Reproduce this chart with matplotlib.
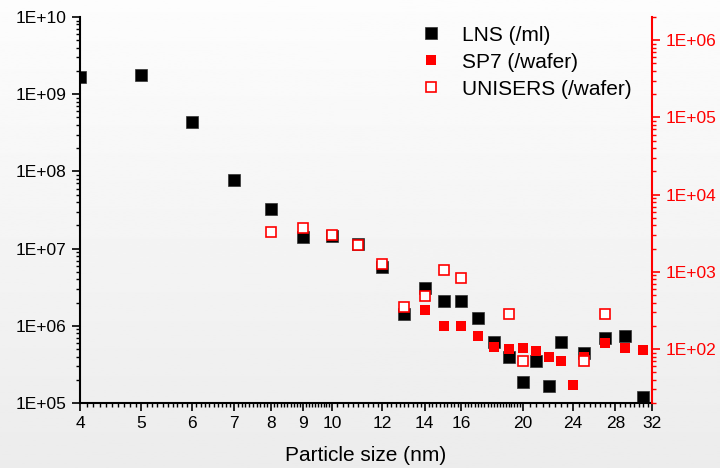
import numpy as np
import matplotlib
matplotlib.use('Agg')
import matplotlib.pyplot as plt
from matplotlib.ticker import FixedLocator, FuncFormatter, LogLocator, NullFormatter

plt.rcParams['font.family'] = ['Liberation Sans', 'DejaVu Sans']

# LNS counts (/ml), left axis
lns_size = [4, 5, 6, 7, 8, 9, 10, 11, 12, 13, 14, 15, 16, 17, 18, 19, 20, 21, 22, 23, 25, 27, 29, 31]
lns_count = [1.65e9, 1.77e9, 4.4e8, 7.8e7, 3.3e7, 1.42e7, 1.46e7, 1.14e7, 5.8e6, 1.42e6, 3.05e6, 2.1e6,
             2.1e6, 1.28e6, 6.1e5, 4.0e5, 1.86e5, 3.5e5, 1.65e5, 6.2e5, 4.4e5, 6.9e5, 7.3e5, 1.18e5]

# SP7 counts (/wafer), right axis
sp7_size = [14, 15, 16, 17, 18, 19, 20, 21, 22, 23, 24, 25, 27, 29, 31]
sp7_count = [318, 201, 201, 147, 107, 100, 104, 94, 79, 71, 34, 79, 121, 102, 98]

# UNISERS counts (/wafer), right axis
uni_size = [8, 9, 10, 11, 12, 13, 14, 15, 16, 19, 20, 25, 27]
uni_count = [3270, 3700, 2960, 2260, 1280, 355, 493, 1060, 844, 282, 70, 69, 282]

x_ticks = [4, 5, 6, 7, 8, 9, 10, 12, 14, 16, 20, 24, 28, 32]

fig = plt.figure(figsize=(7.2, 4.68), dpi=100)

# soft vertical gradient behind everything
bg = fig.add_axes([0, 0, 1, 1], zorder=-10)
grad = np.linspace(0.99, 0.925, 256).reshape(-1, 1)
bg.imshow(grad, cmap='gray', vmin=0, vmax=1, aspect='auto', extent=[0, 1, 0, 1])
bg.axis('off')

ax = fig.add_axes([80 / 720, 1 - 403 / 468, 572 / 720, 386 / 468])
ax.set_facecolor('none')
ax2 = ax.twinx()

expfmt = FuncFormatter(lambda v, p: '1E+%02d' % int(round(np.log10(v))))

ax.plot(lns_size, lns_count, 's', color='black', markersize=9, markeredgewidth=0.5,
        markeredgecolor='#333333', label='LNS (/ml)')
ax.set_xscale('log')
ax.set_yscale('log')
ax.set_xlim(4, 32)
ax.set_ylim(1e5, 1e10)

ax2.plot(sp7_size, sp7_count, 's', color='red', markersize=6.5, markeredgewidth=0,
         label='SP7 (/wafer)')
ax2.plot(uni_size, uni_count, 's', markerfacecolor='white', markeredgecolor='red',
         markersize=7, markeredgewidth=1.2, label='UNISERS (/wafer)')
ax2.set_yscale('log')
ax2.set_ylim(20, 2e6)

ax.xaxis.set_major_locator(FixedLocator(x_ticks))
ax.xaxis.set_major_formatter(FuncFormatter(lambda v, p: '%d' % round(v)))
minor = np.concatenate([np.arange(4, 10, 0.1), np.arange(10, 20, 0.2), np.arange(20, 32.01, 0.5)])
ax.xaxis.set_minor_locator(FixedLocator(minor))
ax.xaxis.set_minor_formatter(NullFormatter())

ax.yaxis.set_major_locator(LogLocator(base=10, numticks=10))
ax.yaxis.set_major_formatter(expfmt)
ax.yaxis.set_minor_locator(LogLocator(base=10, subs=np.arange(2, 10), numticks=20))
ax.yaxis.set_minor_formatter(NullFormatter())

ax2.yaxis.set_major_locator(FixedLocator([1e2, 1e3, 1e4, 1e5, 1e6]))
ax2.yaxis.set_major_formatter(expfmt)
ax2.yaxis.set_minor_locator(LogLocator(base=10, subs=np.arange(2, 10), numticks=20))
ax2.yaxis.set_minor_formatter(NullFormatter())

for a in (ax, ax2):
    a.spines['top'].set_visible(False)
    for s in a.spines.values():
        s.set_linewidth(1.5)
ax2.spines['left'].set_visible(False)
ax2.spines['bottom'].set_visible(False)
ax.spines['right'].set_visible(False)
ax2.spines['right'].set_color('red')

ax.tick_params(which='major', length=6, width=1.2, labelsize=12.5, direction='out', colors='black')
ax.tick_params(which='minor', length=3, width=1, direction='out')
ax2.tick_params(axis='y', which='major', length=6, width=1.2, labelsize=12.5, colors='red')
ax2.tick_params(axis='y', which='minor', length=3, width=1, colors='red')

ax.set_xlabel('Particle size (nm)', fontsize=15, labelpad=11)

handles = ax.get_legend_handles_labels()[0] + ax2.get_legend_handles_labels()[0]
labels = [h.get_label() for h in handles]
ax2.legend(handles, labels, loc='upper left', bbox_to_anchor=(400 / 720, 1 - 7 / 468),
           bbox_transform=fig.transFigure, frameon=False, fontsize=15, handletextpad=0.9,
           labelspacing=0.38, handlelength=1.2)

fig.savefig('out.png', dpi=100)
